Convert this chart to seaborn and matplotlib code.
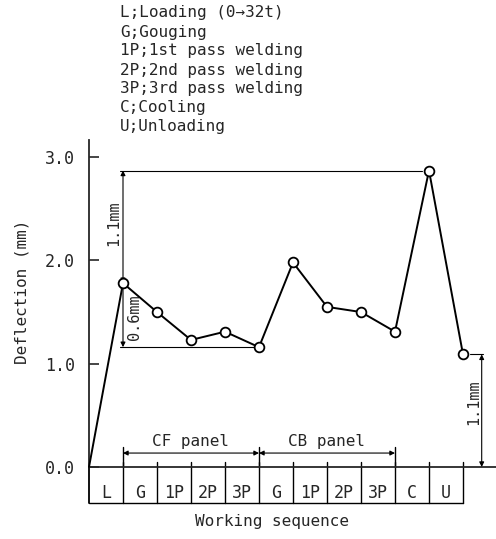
import numpy as np
import pandas as pd
import matplotlib.pyplot as plt
import seaborn as sns

# step boundaries (0..11) and deflection read at end of each step
steps = list(range(12))
deflection = [0.0, 1.78, 1.50, 1.23, 1.31, 1.16, 1.98, 1.55, 1.50, 1.31, 2.87, 1.09]
cells = ["L", "G", "1P", "2P", "3P", "G", "1P", "2P", "3P", "C", "U"]
legend_lines = ["L;Loading (0\u219232t)", "G;Gouging", "1P;1st pass welding",
                "2P;2nd pass welding", "3P;3rd pass welding", "C;Cooling", "U;Unloading"]
yticks = [0.0, 1.0, 2.0, 3.0]

sns.set_style("ticks")
plt.rcParams['font.family'] = ['DejaVu Sans Mono']

df = pd.DataFrame({"step": steps, "deflection": deflection})

fig = plt.figure(figsize=(4.96, 5.39), dpi=100)
ax = fig.add_axes([89/496, 1-467/539, 1-89/496, (467-140)/539])

sns.lineplot(data=df, x="step", y="deflection", color="black", lw=1.4,
             marker="o", markersize=7, markerfacecolor="white",
             markeredgecolor="black", markeredgewidth=1.3, markevery=steps[1:],
             ax=ax, clip_on=False, zorder=5)

ax.set_xlim(0, (496-89)/34)
ax.set_ylim(0, (467-140)/103.3)
ax.set_yticks(yticks)
ax.set_yticklabels([f"{v:.1f}" for v in yticks], fontsize=12)
ax.tick_params(axis="y", direction="in", length=7, width=1.2, pad=10)
ax.set_xticks([])
for s in ["top", "right"]:
    ax.spines[s].set_visible(False)
ax.spines["left"].set_linewidth(1.3)
ax.spines["bottom"].set_linewidth(1.3)
ax.set_ylabel("Deflection (mm)", fontsize=11.5)
ax.yaxis.set_label_coords(-(89-30)/(496-89), (467-292)/(467-140))
ax.set_xlabel("Working sequence", fontsize=11.5)
ax.xaxis.set_label_coords((272-89)/(496-89), -(514-467)/(467-140))

# sequence table below the axis
tb = -0.35
kw = dict(color="black", lw=1.0, clip_on=False)
ax.plot([0, len(cells)], [tb, tb], **kw)
ax.plot([0, 0], [tb, 0], color="black", lw=1.3, clip_on=False)
for i in range(1, len(cells) + 1):
    ax.plot([i, i], [tb, 0.05], **kw)
for i, c in enumerate(cells):
    ax.text(i + 0.5, -0.25, c, ha="center", va="center", fontsize=12)

arr = dict(arrowstyle="<|-|>", color="black", lw=0.8, mutation_scale=7,
           shrinkA=0, shrinkB=0)

# panel spans
ax.plot([1, 1], [0, 0.19], **kw)
ax.plot([5, 5], [0, 0.19], **kw)
ax.plot([9, 9], [0, 0.19], **kw)
ax.annotate("", xy=(1, 0.135), xytext=(5, 0.135), arrowprops=arr)
ax.annotate("", xy=(5, 0.135), xytext=(9, 0.135), arrowprops=arr)
ax.text(3, 0.25, "CF panel", ha="center", va="center", fontsize=11.5)
ax.text(7, 0.25, "CB panel", ha="center", va="center", fontsize=11.5)

# dimension lines
ax.plot([0.9, 9.8], [deflection[10], deflection[10]], color="black", lw=0.8)
ax.plot([0.9, 5], [deflection[5], deflection[5]], color="black", lw=0.8)
ax.annotate("", xy=(1, deflection[10]), xytext=(1, deflection[1]), arrowprops=arr)
ax.annotate("", xy=(1, deflection[1]), xytext=(1, deflection[5]), arrowprops=arr)
ax.text(0.72, 2.36, "1.1mm", rotation=90, ha="center", va="center", fontsize=11)
ax.text(1.35, 1.45, "0.6mm", rotation=90, ha="center", va="center", fontsize=11)

ax.plot([11.2, 11.6], [deflection[11], deflection[11]], color="black", lw=0.8)
ax.annotate("", xy=(11.55, deflection[11]), xytext=(11.55, 0), arrowprops=arr)
ax.text(11.3, 0.63, "1.1mm", rotation=90, ha="center", va="center", fontsize=11)

for k, line in enumerate(legend_lines):
    fig.text(120/496, 1 - (13 + 19*k)/539, line, ha="left", va="center", fontsize=11.5)

fig.savefig("out.png", dpi=100)
